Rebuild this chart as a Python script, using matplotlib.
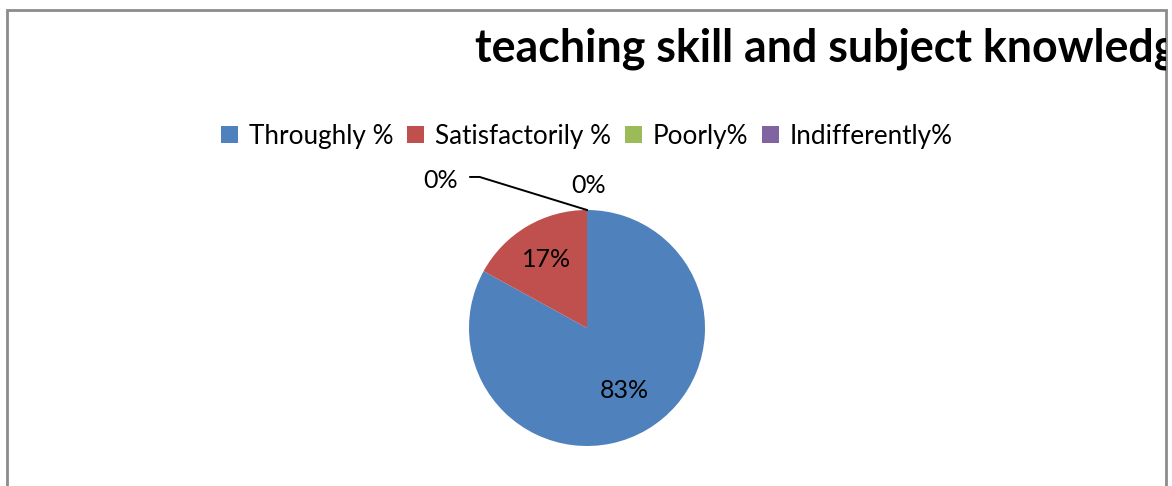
import matplotlib
matplotlib.use("Agg")
import matplotlib.pyplot as plt
from matplotlib.patches import Rectangle
import numpy as np

categories = ["Throughly %", "Satisfactorily %", "Poorly%", "Indifferently%"]
values = [83, 17, 0, 0]
colors = ["#4F81BD", "#C0504D", "#9BBB59", "#8064A2"]
title = "teaching skill and subject knowledge"

W, H = 1172, 486
fig = plt.figure(figsize=(W / 100, H / 100), dpi=100)
plt.rcParams['font.family'] = ['Lato', 'DejaVu Sans']

# chart border
border = Rectangle((7 / W, -0.1), (1166 - 7) / W, (H - 10) / H + 0.1,
                   transform=fig.transFigure, fill=False, edgecolor="#8c8c8c",
                   linewidth=2, zorder=0)
fig.patches.append(border)

# title, clipped by border
t = fig.text(475 / W, 1 - 61 / H, title, fontsize=32.2, fontweight="bold",
             ha="left", va="baseline", color="black")
t.set_clip_path(border)

# pie
cx, cy, r = 587, 328, 118
ax = fig.add_axes([(cx - r) / W, (H - cy - r) / H, 2 * r / W, 2 * r / H])
wedges, _ = ax.pie(values, colors=colors, startangle=90, counterclock=False,
                   wedgeprops=dict(linewidth=0))
ax.set_xlim(-1, 1)
ax.set_ylim(-1, 1)
ax.set_aspect("equal")
ax.axis("off")

lab_fs = 18
for i, (w, v) in enumerate(zip(wedges, values)):
    mid = np.deg2rad((w.theta1 + w.theta2) / 2)
    txt = f"{v}%"
    if v > 0:
        d = 0.62 if v > 50 else 0.67
        ax.text(d * np.cos(mid), d * np.sin(mid), txt, ha="center", va="center",
                fontsize=lab_fs, color="black")
    elif i == 2:
        ax.text(-1.24, 1.25, txt, ha="center", va="center", fontsize=lab_fs)
        ax.plot([-0.99, -0.91, np.cos(mid)], [1.28, 1.28, np.sin(mid)],
                color="black", lw=1.4, clip_on=False)
    else:
        ax.text(0.01, 1.21, txt, ha="center", va="center", fontsize=lab_fs)

leg = fig.legend(wedges, categories, loc="center", bbox_to_anchor=(587 / W, 1 - 136 / H),
                 ncol=4, frameon=False, fontsize=18.8, handlelength=0.65,
                 handleheight=0.65, handletextpad=0.4, columnspacing=0.55)

fig.savefig("out.png", dpi=100)
